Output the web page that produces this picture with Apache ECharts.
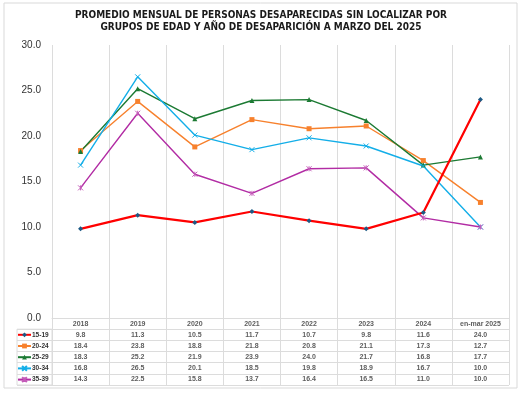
<!DOCTYPE html>
<html lang="es">
<head>
<meta charset="utf-8">
<title>Promedio mensual de personas desaparecidas</title>
<script src="https://cdn.jsdelivr.net/npm/echarts@6/dist/echarts.min.js"></script>
<style>
  html, body { margin: 0; padding: 0; background: #fff; }
  #main { width: 522px; height: 399px; }
</style>
</head>
<body>
<div id="main"></div>
<script>
var years = ['2018', '2019', '2020', '2021', '2022', '2023', '2024', 'en-mar 2025'];
var groups = ['15-19', '20-24', '25-29', '30-34', '35-39'];
var g15_19 = [9.8, 11.3, 10.5, 11.7, 10.7, 9.8, 11.6, 24.0];
var g20_24 = [18.4, 23.8, 18.8, 21.8, 20.8, 21.1, 17.3, 12.7];
var g25_29 = [18.3, 25.2, 21.9, 23.9, 24.0, 21.7, 16.8, 17.7];
var g30_34 = [16.8, 26.5, 20.1, 18.5, 19.8, 18.9, 16.7, 10.0];
var g35_39 = [14.3, 22.5, 15.8, 13.7, 16.4, 16.5, 11.0, 10.0];
var yTicks = [0, 5, 10, 15, 20, 25, 30];

var allValues = [g15_19, g20_24, g25_29, g30_34, g35_39];
var lineColors = ['#ff0000', '#f7812d', '#1c7a33', '#13aee8', '#b22ca4'];
var markColors = ['#1d5a85', '#f7812d', '#1c7a33', '#13aee8', '#c45ab8'];
var symbols = [
  'diamond', 'rect', 'triangle',
  'path://M0,0L10,10M10,0L0,10',
  'path://M0,0L10,10M10,0L0,10M5,0L5,10'
];
var lineWidths = [2.2, 1.4, 1.4, 1.4, 1.4];
var gridColor = '#dcdcdc';
var tableFont = 'Liberation Sans Narrow, Liberation Sans, sans-serif';

var chart = echarts.init(document.getElementById('main'));

var series = [];
groups.forEach(function (g, i) {
  var isPath = symbols[i].indexOf('path://') === 0;
  series.push({
    name: g,
    type: 'line',
    xAxisIndex: 0,
    yAxisIndex: 0,
    data: allValues[i],
    symbol: symbols[i],
    symbolSize: 5,
    showAllSymbol: true,
    lineStyle: { color: lineColors[i], width: lineWidths[i] },
    itemStyle: isPath
      ? { color: 'transparent', borderColor: markColors[i], borderWidth: 1 }
      : { color: markColors[i], borderWidth: 0 },
    z: i === 0 ? 5 : 3
  });
});

// tabla de datos: encabezado + un renglon por grupo
var rowNames = ['hdr'].concat(groups);
var headerCells = years.map(function (y, j) { return { value: [j, 'hdr'], name: y }; });
var valueCells = [];
groups.forEach(function (g, i) {
  allValues[i].forEach(function (v, j) {
    valueCells.push({ value: [j, g], name: v.toFixed(1) });
  });
});
series.push({
  type: 'scatter',
  xAxisIndex: 1,
  yAxisIndex: 1,
  silent: true,
  symbolSize: 1,
  itemStyle: { color: 'transparent' },
  data: headerCells.concat(valueCells),
  label: {
    show: true,
    position: 'inside',
    formatter: function (p) { return p.name; },
    fontFamily: tableFont,
    fontWeight: 'bold',
    fontSize: 7,
    color: '#333'
  }
});

var catSplit = { show: true, interval: 0, lineStyle: { color: gridColor, width: 1 } };

chart.setOption({
  backgroundColor: '#fff',
  animation: false,
  title: {
    text: 'PROMEDIO MENSUAL DE PERSONAS DESAPARECIDAS SIN LOCALIZAR POR\nGRUPOS DE EDAD Y AÑO DE DESAPARICIÓN A MARZO DEL 2025',
    left: 'center',
    top: 4,
    textStyle: {
      fontFamily: 'DejaVu Sans Condensed, DejaVu Sans, sans-serif',
      fontWeight: 'bold',
      fontSize: 10,
      lineHeight: 12.5,
      color: '#1a1a1a'
    }
  },
  legend: {
    orient: 'vertical',
    left: 17,
    top: 330.8,
    padding: 0,
    itemWidth: 13,
    itemHeight: 6,
    itemGap: 3.2,
    selectedMode: false,
    data: groups,
    textStyle: {
      fontFamily: tableFont,
      fontWeight: 'bold',
      fontSize: 6.5,
      lineHeight: 8,
      color: '#333',
      padding: [0, 0, 0, -4]
    }
  },
  graphic: [{
    type: 'rect',
    shape: { x: 4, y: 3, width: 513, height: 385 },
    style: { fill: 'none', stroke: '#d9d9d9', lineWidth: 1 },
    silent: true,
    z: -10
  }],
  grid: [
    { left: 52, right: 13, top: 45, height: 273 },
    { left: 52, right: 13, top: 318, height: 67 },
    { left: 17, width: 35, top: 329.2, height: 55.8, show: true, borderColor: gridColor, borderWidth: 1 }
  ],
  xAxis: [
    {
      type: 'category', gridIndex: 0, data: years, boundaryGap: true,
      axisLine: { show: true, lineStyle: { color: gridColor } },
      axisTick: { show: false, interval: 0 }, axisLabel: { show: false, interval: 0 },
      splitLine: catSplit
    },
    {
      type: 'category', gridIndex: 1, data: years, boundaryGap: true,
      axisLine: { show: false }, axisTick: { show: false, interval: 0 }, axisLabel: { show: false, interval: 0 },
      splitLine: catSplit
    },
    {
      type: 'value', gridIndex: 2, min: 0, max: 1, show: false
    }
  ],
  yAxis: [
    {
      type: 'value', gridIndex: 0, min: 0, max: 30, interval: 5,
      axisLine: { show: false }, axisTick: { show: false },
      splitLine: { show: false },
      axisLabel: {
        margin: 11,
        fontFamily: 'Liberation Sans, Arial, sans-serif',
        fontSize: 10,
        color: '#333',
        formatter: function (v) { return yTicks.indexOf(v) >= 0 ? v.toFixed(1) : ''; }
      }
    },
    {
      type: 'category', gridIndex: 1, data: rowNames, inverse: true, boundaryGap: true,
      axisLine: { show: false }, axisTick: { show: false, interval: 0 }, axisLabel: { show: false, interval: 0 },
      splitLine: catSplit
    },
    {
      type: 'category', gridIndex: 2, data: groups, inverse: true, boundaryGap: true,
      axisLine: { show: false }, axisTick: { show: false, interval: 0 }, axisLabel: { show: false, interval: 0 },
      splitLine: catSplit
    }
  ],
  series: series
});
</script>
</body>
</html>
